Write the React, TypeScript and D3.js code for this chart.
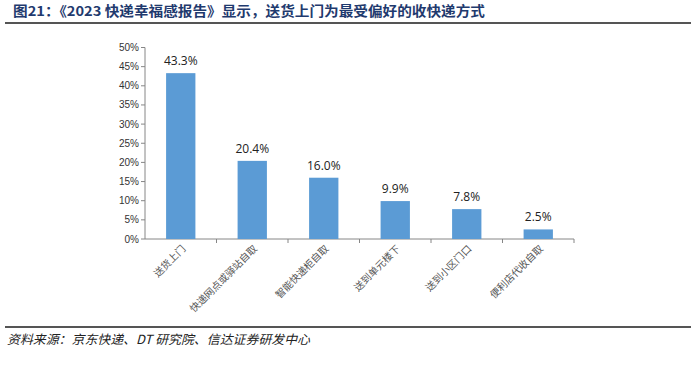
import React from "react";
import * as d3 from "d3";

const categories = ["送货上门", "快递网点或驿站自取", "智能快递柜自取", "送到单元楼下", "送到小区门口", "便利店代收自取"];
const values = [43.3, 20.4, 16.0, 9.9, 7.8, 2.5];
const yTicks = [0, 5, 10, 15, 20, 25, 30, 35, 40, 45, 50];
const title = "图21：《2023 快递幸福感报告》显示，送货上门为最受偏好的收快递方式";
const source = "资料来源：京东快递、DT 研究院、信达证券研发中心";

export default function App() {
  const W = 691, H = 366;
  const x0 = 145, x1 = 574, y0 = 239, y1 = 47.5;
  const x = d3.scaleBand<string>().domain(categories).range([x0, x1]).paddingInner(0.59).paddingOuter(0.295);
  const band = d3.scaleBand<string>().domain(categories).range([x0, x1]);
  const y = d3.scaleLinear().domain([0, 50]).range([y0, y1]);
  const axisColor = "#868686";
  return (
    <svg width={W} height={H} style={{ position: "absolute", left: 0, top: 0, background: "#fff" }}>
      <text x={13} y={16} textLength={472} lengthAdjust="spacingAndGlyphs" fontFamily="'Noto Sans CJK SC', sans-serif" fontWeight="bold" fontSize={13.5} fill="#1f3a6e">{title}</text>
      <line x1={5} x2={691} y1={23} y2={23} stroke="#555" strokeWidth={2} />
      <line x1={x0} x2={x0} y1={y1} y2={y0} stroke={axisColor} strokeWidth={1} />
      {yTicks.map((t) => (
        <g key={t}>
          <line x1={x0 - 4} x2={x0} y1={y(t)} y2={y(t)} stroke={axisColor} />
          <text x={x0 - 6} y={y(t)} dy="0.35em" textAnchor="end" fontFamily="'Liberation Sans', Arial, sans-serif" fontSize={10} fill="#333">{t}%</text>
        </g>
      ))}
      <line x1={x0} x2={x1} y1={y0} y2={y0} stroke={axisColor} />
      {categories.map((c, i) => (
        <line key={"t" + i} x1={(band(c) as number) + band.bandwidth()} x2={(band(c) as number) + band.bandwidth()} y1={y0} y2={y0 + 4} stroke={axisColor} />
      ))}
      {categories.map((c, i) => (
        <g key={c}>
          <rect x={x(c)} y={y(values[i])} width={x.bandwidth()} height={y0 - y(values[i])} fill="#5b9bd5" />
          <text x={(x(c) as number) + x.bandwidth() / 2} y={y(values[i]) - 8} textAnchor="middle" fontFamily="'Open Sans', 'DejaVu Sans', sans-serif" fontSize={12} fill="#222">{values[i].toFixed(1)}%</text>
          <text transform={`translate(${(band(c) as number) + band.bandwidth() / 2 + 3},${y0 + 8}) rotate(-45)`} textAnchor="end" dy="0.35em" fontFamily="'Noto Sans CJK SC', serif" fontSize={10} fill="#555">{c}</text>
        </g>
      ))}
      <line x1={5} x2={691} y1={327} y2={327} stroke="#555" strokeWidth={2} />
      <text x={7} y={344} textLength={303} lengthAdjust="spacingAndGlyphs" fontFamily="'Noto Sans CJK SC', serif" fontStyle="italic" fontSize={12.5} fill="#222">{source}</text>
    </svg>
  );
}
